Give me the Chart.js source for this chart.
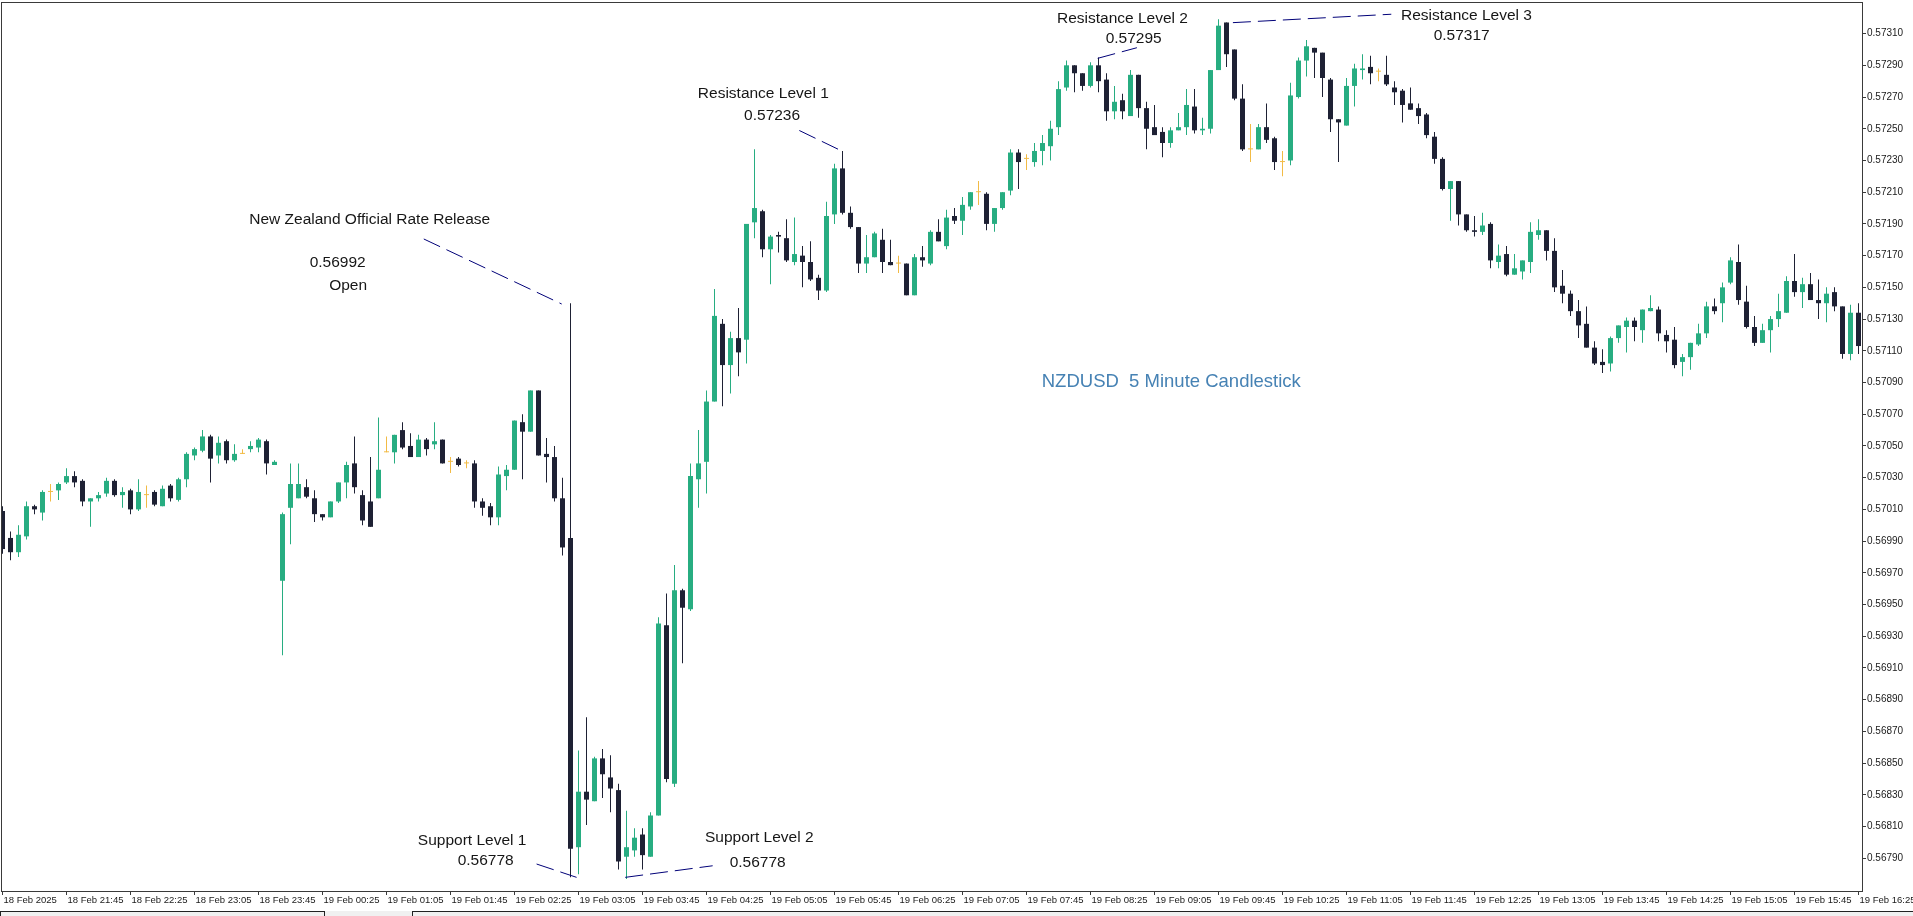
<!DOCTYPE html>
<html>
<head>
<meta charset="utf-8">
<script src="https://cdn.jsdelivr.net/npm/chart.js@4.4.1/dist/chart.umd.min.js"></script>
<style>
html,body{margin:0;padding:0;background:#fff;overflow:hidden}
#wrap{width:1913px;height:916px;position:relative}
</style>
</head>
<body>
<div id="wrap"><canvas id="c"></canvas></div>
<script>
// ---- DATA (NZDUSD, 5-minute candles, 18 Feb 21:05 -> 19 Feb 16:25) ----
const openP = [
0.57009,0.56992,0.56983,0.56993,0.57012,0.57008,0.57021,0.57022,0.57027,0.57031,
0.57028,0.57015,0.57017,0.57020,0.57028,0.57019,0.57022,0.57010,0.57019,0.57021,
0.57012,0.57025,0.57016,0.57029,0.57044,0.57047,0.57056,0.57044,0.57053,0.57041,
0.57045,0.57048,0.57049,0.57053,0.57038,0.56965,0.57011,0.57017,0.57024,0.57017,
0.57007,0.57005,0.57015,0.57027,0.57039,0.57019,0.57015,0.57017,0.57046,0.57046,
0.57060,0.57050,0.57043,0.57054,0.57051,0.57054,0.57040,0.57042,0.57039,0.57039,
0.57015,0.57012,0.57005,0.57031,0.57035,0.57065,0.57059,0.57085,0.57045,0.57043,
0.57017,0.56992,0.56797,0.56832,0.56826,0.56853,0.56841,0.56833,0.56791,0.56795,
0.56805,0.56791,0.56817,0.56937,0.56837,0.56959,0.56947,0.57029,0.57040,0.57078,
0.57127,0.57101,0.57118,0.57117,0.57191,0.57198,0.57174,0.57183,0.57181,0.57166,
0.57170,0.57166,0.57156,0.57148,0.57196,0.57225,0.57197,0.57188,0.57165,0.57169,
0.57180,0.57166,0.57165,0.57165,0.57145,0.57169,0.57165,0.57185,0.57176,0.57195,
0.57192,0.57201,0.57210,0.57209,0.57190,0.57200,0.57211,0.57235,0.57231,0.57229,
0.57236,0.57239,0.57251,0.57276,0.57290,0.57285,0.57277,0.57290,0.57281,0.57261,
0.57268,0.57258,0.57284,0.57263,0.57251,0.57248,0.57241,0.57249,0.57251,0.57264,
0.57249,0.57250,0.57287,0.57317,0.57300,0.57269,0.57237,0.57237,0.57251,0.57244,
0.57229,0.57230,0.57270,0.57293,0.57301,0.57298,0.57281,0.57256,0.57252,0.57277,
0.57287,0.57289,0.57286,0.57284,0.57276,0.57274,0.57266,0.57263,0.57259,0.57245,
0.57231,0.57212,0.57217,0.57196,0.57186,0.57185,0.57190,0.57166,0.57171,0.57158,
0.57160,0.57166,0.57183,0.57186,0.57173,0.57151,0.57146,0.57135,0.57127,0.57112,
0.57103,0.57102,0.57118,0.57125,0.57129,0.57123,0.57135,0.57136,0.57120,0.57117,
0.57103,0.57106,0.57114,0.57121,0.57138,0.57140,0.57153,0.57166,0.57141,0.57125,
0.57115,0.57123,0.57130,0.57134,0.57154,0.57147,0.57152,0.57142,0.57140,0.57147,
0.57138,0.57108,0.57134];
const highP = [
0.57012,0.56996,0.57000,0.57015,0.57013,0.57022,0.57026,0.57027,0.57036,0.57034,
0.57029,0.57017,0.57021,0.57030,0.57029,0.57024,0.57023,0.57029,0.57025,0.57022,
0.57025,0.57026,0.57030,0.57046,0.57049,0.57060,0.57057,0.57056,0.57054,0.57051,
0.57048,0.57053,0.57055,0.57054,0.57041,0.57008,0.57039,0.57039,0.57029,0.57022,
0.57007,0.57015,0.57027,0.57040,0.57056,0.57022,0.57043,0.57068,0.57056,0.57057,
0.57065,0.57058,0.57057,0.57055,0.57065,0.57054,0.57043,0.57043,0.57041,0.57041,
0.57017,0.57014,0.57037,0.57038,0.57066,0.57070,0.57085,0.57085,0.57055,0.57050,
0.57030,0.57140,0.56858,0.56879,0.56854,0.56859,0.56855,0.56837,0.56820,0.56809,
0.56809,0.56819,0.56942,0.56957,0.56975,0.56960,0.57039,0.57060,0.57085,0.57149,
0.57130,0.57122,0.57137,0.57190,0.57237,0.57199,0.57183,0.57185,0.57193,0.57194,
0.57176,0.57179,0.57158,0.57204,0.57228,0.57236,0.57201,0.57188,0.57183,0.57185,
0.57187,0.57180,0.57170,0.57165,0.57171,0.57176,0.57186,0.57193,0.57199,0.57200,
0.57207,0.57210,0.57217,0.57210,0.57200,0.57210,0.57237,0.57237,0.57234,0.57241,
0.57246,0.57255,0.57280,0.57293,0.57290,0.57285,0.57292,0.57295,0.57285,0.57277,
0.57272,0.57287,0.57284,0.57267,0.57265,0.57251,0.57251,0.57260,0.57275,0.57275,
0.57257,0.57287,0.57319,0.57317,0.57300,0.57278,0.57253,0.57253,0.57266,0.57245,
0.57236,0.57279,0.57295,0.57306,0.57301,0.57298,0.57282,0.57256,0.57282,0.57291,
0.57297,0.57296,0.57288,0.57296,0.57280,0.57275,0.57276,0.57266,0.57260,0.57248,
0.57232,0.57217,0.57217,0.57196,0.57195,0.57197,0.57191,0.57177,0.57176,0.57171,
0.57167,0.57191,0.57193,0.57186,0.57181,0.57161,0.57148,0.57142,0.57138,0.57116,
0.57111,0.57119,0.57126,0.57131,0.57131,0.57136,0.57145,0.57138,0.57123,0.57125,
0.57108,0.57115,0.57127,0.57141,0.57143,0.57153,0.57169,0.57177,0.57151,0.57132,
0.57127,0.57132,0.57146,0.57157,0.57171,0.57156,0.57159,0.57155,0.57150,0.57150,
0.57138,0.57139,0.57140];
const lowP = [
0.56982,0.56978,0.56980,0.56991,0.57007,0.57003,0.57015,0.57016,0.57026,0.57024,
0.57012,0.56999,0.57015,0.57018,0.57018,0.57011,0.57007,0.57009,0.57011,0.57012,
0.57012,0.57015,0.57015,0.57024,0.57041,0.57046,0.57027,0.57039,0.57039,0.57040,
0.57045,0.57046,0.57046,0.57032,0.57038,0.56918,0.56988,0.57017,0.57017,0.57002,
0.57003,0.57005,0.57014,0.57017,0.57020,0.57000,0.56999,0.57017,0.57046,0.57039,
0.57048,0.57043,0.57043,0.57044,0.57048,0.57039,0.57033,0.57037,0.57036,0.57011,
0.57006,0.57000,0.57000,0.57022,0.57035,0.57029,0.57059,0.57044,0.57027,0.57015,
0.56981,0.56778,0.56780,0.56811,0.56826,0.56828,0.56819,0.56783,0.56777,0.56791,
0.56783,0.56791,0.56817,0.56838,0.56835,0.56913,0.56946,0.57011,0.57020,0.57078,
0.57075,0.57083,0.57094,0.57102,0.57181,0.57169,0.57152,0.57172,0.57166,0.57164,
0.57150,0.57154,0.57142,0.57147,0.57190,0.57196,0.57187,0.57159,0.57159,0.57169,
0.57159,0.57164,0.57159,0.57145,0.57145,0.57163,0.57164,0.57179,0.57174,0.57190,
0.57183,0.57199,0.57202,0.57186,0.57185,0.57199,0.57208,0.57212,0.57224,0.57226,
0.57227,0.57230,0.57246,0.57274,0.57273,0.57274,0.57276,0.57273,0.57255,0.57256,
0.57256,0.57258,0.57257,0.57237,0.57246,0.57232,0.57238,0.57249,0.57246,0.57247,
0.57246,0.57247,0.57287,0.57289,0.57268,0.57236,0.57229,0.57237,0.57241,0.57224,
0.57220,0.57227,0.57269,0.57283,0.57282,0.57270,0.57248,0.57229,0.57252,0.57264,
0.57281,0.57278,0.57280,0.57277,0.57265,0.57254,0.57262,0.57253,0.57244,0.57228,
0.57211,0.57192,0.57189,0.57185,0.57182,0.57183,0.57162,0.57162,0.57157,0.57158,
0.57155,0.57159,0.57180,0.57167,0.57147,0.57140,0.57132,0.57118,0.57112,0.57101,
0.57096,0.57097,0.57115,0.57109,0.57116,0.57115,0.57135,0.57116,0.57109,0.57099,
0.57094,0.57098,0.57113,0.57118,0.57133,0.57128,0.57152,0.57139,0.57124,0.57113,
0.57115,0.57109,0.57125,0.57134,0.57144,0.57137,0.57142,0.57130,0.57128,0.57135,
0.57105,0.57104,0.57108];
const closeP = [
0.56985,0.56983,0.56994,0.57012,0.57010,0.57021,0.57021,0.57026,0.57031,0.57027,
0.57015,0.57017,0.57019,0.57028,0.57019,0.57021,0.57010,0.57021,0.57019,0.57013,
0.57023,0.57017,0.57029,0.57045,0.57048,0.57056,0.57042,0.57052,0.57041,0.57045,
0.57045,0.57050,0.57054,0.57039,0.57040,0.57007,0.57026,0.57026,0.57018,0.57007,
0.57005,0.57015,0.57027,0.57038,0.57024,0.57003,0.56999,0.57035,0.57046,0.57057,
0.57049,0.57043,0.57054,0.57048,0.57053,0.57039,0.57040,0.57038,0.57039,0.57015,
0.57011,0.57005,0.57032,0.57035,0.57066,0.57059,0.57085,0.57044,0.57043,0.57017,
0.56986,0.56796,0.56832,0.56827,0.56853,0.56843,0.56834,0.56788,0.56797,0.56803,
0.56792,0.56817,0.56938,0.56840,0.56959,0.56948,0.57031,0.57039,0.57078,0.57132,
0.57101,0.57118,0.57109,0.57190,0.57200,0.57174,0.57182,0.57182,0.57167,0.57171,
0.57166,0.57155,0.57148,0.57195,0.57225,0.57197,0.57188,0.57165,0.57169,0.57184,
0.57166,0.57164,0.57165,0.57145,0.57169,0.57167,0.57185,0.57179,0.57194,0.57192,
0.57202,0.57210,0.57210,0.57190,0.57200,0.57210,0.57235,0.57229,0.57231,0.57236,
0.57241,0.57250,0.57275,0.57290,0.57285,0.57277,0.57290,0.57280,0.57261,0.57267,
0.57261,0.57284,0.57263,0.57250,0.57246,0.57241,0.57249,0.57251,0.57265,0.57249,
0.57250,0.57287,0.57315,0.57297,0.57269,0.57237,0.57237,0.57251,0.57243,0.57229,
0.57229,0.57271,0.57293,0.57302,0.57298,0.57282,0.57256,0.57254,0.57277,0.57288,
0.57288,0.57285,0.57286,0.57278,0.57273,0.57265,0.57262,0.57258,0.57246,0.57231,
0.57212,0.57217,0.57196,0.57186,0.57185,0.57189,0.57167,0.57170,0.57158,0.57162,
0.57167,0.57185,0.57186,0.57173,0.57150,0.57146,0.57135,0.57126,0.57112,0.57102,
0.57101,0.57118,0.57126,0.57129,0.57125,0.57136,0.57137,0.57121,0.57116,0.57101,
0.57106,0.57115,0.57121,0.57138,0.57135,0.57150,0.57167,0.57142,0.57125,0.57115,
0.57123,0.57130,0.57135,0.57154,0.57147,0.57152,0.57142,0.57140,0.57146,0.57138,
0.57108,0.57134,0.57113];

const xTickIndex = [0,8,16,24,32,40,48,56,64,72,80,88,96,104,112,120,128,136,144,152,160,168,176,184,192,200,208,216,224,232];
const xTickLabels = ["18 Feb 2025","18 Feb 21:45","18 Feb 22:25","18 Feb 23:05","18 Feb 23:45","19 Feb 00:25","19 Feb 01:05","19 Feb 01:45","19 Feb 02:25","19 Feb 03:05","19 Feb 03:45","19 Feb 04:25","19 Feb 05:05","19 Feb 05:45","19 Feb 06:25","19 Feb 07:05","19 Feb 07:45","19 Feb 08:25","19 Feb 09:05","19 Feb 09:45","19 Feb 10:25","19 Feb 11:05","19 Feb 11:45","19 Feb 12:25","19 Feb 13:05","19 Feb 13:45","19 Feb 14:25","19 Feb 15:05","19 Feb 15:45","19 Feb 16:25"];
const yTickLabels = ["0.57310","0.57290","0.57270","0.57250","0.57230","0.57210","0.57190","0.57170","0.57150","0.57130","0.57110","0.57090","0.57070","0.57050","0.57030","0.57010","0.56990","0.56970","0.56950","0.56930","0.56910","0.56890","0.56870","0.56850","0.56830","0.56810","0.56790"];

// annotations in data units: [candle index, price]
const annTexts = [
  {t:"New Zealand Official Rate Release", i:45.9, p:0.571925},
  {t:"0.56992", i:41.9, p:0.571654},
  {t:"Open", i:43.2, p:0.571513},
  {t:"Resistance Level 1", i:95.1, p:0.572719},
  {t:"0.57236", i:96.2, p:0.572580},
  {t:"Resistance Level 2", i:140.0, p:0.573196},
  {t:"0.57295", i:141.4, p:0.573070},
  {t:"Resistance Level 3", i:183.0, p:0.573211},
  {t:"0.57317", i:182.4, p:0.573085},
  {t:"Support Level 1", i:58.7, p:0.568012},
  {t:"0.56778", i:60.4, p:0.567883},
  {t:"Support Level 2", i:94.6, p:0.568028},
  {t:"0.56778", i:94.4, p:0.567874}
];
const annLines = [
  [52.66,0.571805, 69.9,0.571395],
  [99.6,0.572489, 104.9,0.572360],
  [136.9,0.572944, 141.8,0.573011],
  [153.8,0.573169, 173.6,0.573222],
  [66.76,0.567864, 71.76,0.567780],
  [77.84,0.567780, 88.77,0.567853]
];
const chartTitle = {t:"NZDUSD  5 Minute Candlestick", i:146.1, p:0.570905};

// ---- styles ----
const UP = '#27ad81', DOWN = '#1e2134', DOJI = '#f2bb45';
const candleColor = openP.map((o,k) => closeP[k] > o ? UP : (closeP[k] < o ? DOWN : DOJI));

const wickData = lowP.map((l,k) => ({x:k, y:[l, highP[k]]}));
const bodyData = openP.map((o,k) => ({x:k, y:[o, closeP[k]]}));

const FONT = '"Liberation Sans", Arial, sans-serif';
Chart.defaults.font.family = FONT;

const annotPlugin = {
  id: 'annot',
  afterDatasetsDraw(chart) {
    const {ctx, scales:{x, y}} = chart;
    ctx.save();
    ctx.strokeStyle = '#000078';
    ctx.lineWidth = 1;
    ctx.setLineDash([18, 7]);
    annLines.forEach(l => {
      ctx.beginPath();
      ctx.moveTo(x.getPixelForValue(l[0]), y.getPixelForValue(l[1]));
      ctx.lineTo(x.getPixelForValue(l[2]), y.getPixelForValue(l[3]));
      ctx.stroke();
    });
    ctx.setLineDash([]);
    ctx.textAlign = 'center';
    ctx.textBaseline = 'middle';
    ctx.fillStyle = '#161616';
    ctx.font = '15.5px ' + FONT;
    annTexts.forEach(a => ctx.fillText(a.t, x.getPixelForValue(a.i), y.getPixelForValue(a.p)));
    ctx.fillStyle = '#4682b4';
    ctx.font = '18.5px ' + FONT;
    ctx.fillText(chartTitle.t, x.getPixelForValue(chartTitle.i), y.getPixelForValue(chartTitle.p));
    ctx.restore();
  },
  afterDraw(chart) {
    const {ctx, chartArea:a, width} = chart;
    ctx.save();
    ctx.strokeStyle = '#3a3a3a';
    ctx.lineWidth = 1;
    ctx.strokeRect(Math.round(a.left) - 0.5, Math.round(a.top) - 0.5, Math.round(a.right - a.left) + 1, Math.round(a.bottom - a.top) + 1);
    // bottom tab strip
    ctx.fillStyle = '#f0f0f0';
    ctx.fillRect(0, 911, width, 5);
    ctx.strokeStyle = '#222';
    ctx.strokeRect(0.5, 911.5, 324, 10);
    ctx.strokeRect(412.5, 911.5, width - 412, 10);
    ctx.restore();
  }
};

new Chart(document.getElementById('c'), {
  type: 'bar',
  data: {
    datasets: [
      {label:'body', data: bodyData, backgroundColor: candleColor, borderWidth: 0, barThickness: 5,
       minBarLength: 1, grouped: false, inflateAmount: 0, order: 0},
      {label:'wick', data: wickData, backgroundColor: candleColor, borderWidth: 0, barThickness: 1,
       minBarLength: 1, grouped: false, inflateAmount: 0, order: 1}
    ]
  },
  options: {
    responsive: true,
    maintainAspectRatio: false,
    animation: false,
    layout: {padding: {left: 2, top: 3, right: 0, bottom: 0}},
    plugins: {legend: {display: false}, tooltip: {enabled: false}, title: {display: false}},
    scales: {
      x: {
        type: 'linear',
        offset: false,
        min: -0.0625,
        max: 232.4375,
        grid: {display: true, drawOnChartArea: false, drawTicks: true, tickLength: 4, color: '#3a3a3a', offset: false},
        border: {display: true, color: '#3a3a3a'},
        ticks: {
          autoSkip: false, maxRotation: 0, minRotation: 0, align: 'start', labelOffset: 1, padding: 0,
          color: '#1a1a1a', font: {size: 9.5, family: FONT},
          callback: (v, idx) => xTickLabels[idx]
        },
        afterBuildTicks: s => { s.ticks = xTickIndex.map(v => ({value: v})); },
        afterFit: s => { s.height = 25; s.paddingLeft = 0; s.paddingRight = 0; }
      },
      y: {
        type: 'linear',
        position: 'right',
        beginAtZero: false,
        min: 0.5676939,
        max: 0.5732929,
        grid: {display: true, drawOnChartArea: false, drawTicks: true, tickLength: 4, color: '#3a3a3a'},
        border: {display: true, color: '#3a3a3a'},
        ticks: {
          padding: 1, color: '#1a1a1a', font: {size: 10, family: FONT},
          callback: (v, idx) => yTickLabels[idx]
        },
        afterBuildTicks: s => { s.ticks = yTickLabels.map(t => ({value: parseFloat(t)})); },
        afterFit: s => { s.width = 51; s.paddingTop = 0; s.paddingBottom = 0; }
      }
    }
  },
  plugins: [annotPlugin]
});
</script>
</body>
</html>
